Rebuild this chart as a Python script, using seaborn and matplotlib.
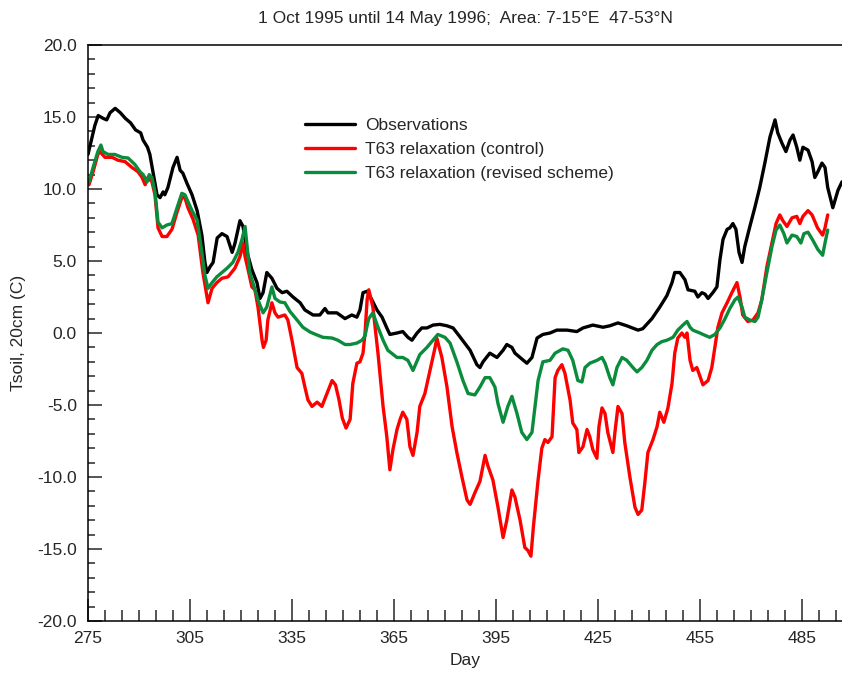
import numpy as np
import pandas as pd
import matplotlib
matplotlib.use("Agg")
import matplotlib.pyplot as plt
from matplotlib.ticker import MultipleLocator, FormatStrFormatter
import seaborn as sns

# ---------------- data ----------------
obs_day = [275, 277, 278, 279.5, 280.5, 281.5, 283, 284.5, 286, 287.5, 289, 290.5, 291.2, 292.5, 293.2,
           294.1, 295.3, 296.2, 297.1, 297.6, 298.5, 300, 301.2, 302.1, 302.9, 304.1, 305.6, 307.1, 308.5,
           309.4, 310, 310.9, 311.8, 313, 314.4, 315.9, 317.4, 318.2, 319.7, 320.6, 321.8, 323.2, 324.7,
           325.6, 326.5, 327.6, 329.1, 330.6, 332.1, 333.5, 335.3, 337.4, 338.8, 341.2, 343.2, 344.7, 345.6,
           348.2, 350.6, 352.6, 354.1, 355, 355.9, 357.1, 358.5, 360, 361.5, 362.9, 363.8, 365.9, 367.6,
           369.1, 370.3, 371.8, 373.2, 374.7, 376.5, 378.5, 380.6, 382.4, 384.2, 387.4, 389.4, 390.3, 391.2,
           393.2, 395.3, 397.1, 398.2, 399.7, 400.6, 402.1, 404.1, 405.6, 407.1, 408.8, 410.9, 412.9, 415.9,
           418.8, 420.6, 423.5, 426.5, 428.5, 430.9, 433.5, 436.8, 438.2, 440.9, 443.2, 445.3, 446.8, 447.6,
           449.1, 450.6, 451.5, 453.5, 454.4, 455.6, 456.5, 457.4, 458.8, 460, 460.9, 461.8, 463, 463.8,
           464.7, 465.6, 466.5, 467.4, 468.2, 469.7, 471.2, 472.6, 474.1, 475.6, 477.1, 477.9, 479.1, 480.3,
           481.5, 482.4, 483.5, 484.4, 485.3, 486.8, 488, 488.8, 489.7, 490.9, 491.8, 492.6, 494.1, 495.6,
           496.8]
obs_val = [12.4, 14.4, 15.1, 14.9, 14.8, 15.3, 15.6, 15.3, 14.9, 14.6, 14.1, 13.9, 13.4, 12.9, 12.4,
           11.2, 9.6, 9.4, 9.8, 9.6, 10.1, 11.5, 12.2, 11.3, 11.1, 10.4, 9.6, 8.5, 6.8,
           4.9, 4.2, 4.6, 4.9, 6.6, 6.9, 6.7, 5.6, 6.2, 7.8, 7.4, 5.6, 4.4, 3.5,
           2.4, 2.8, 4.2, 3.8, 3.1, 2.8, 2.9, 2.5, 2.1, 1.6, 1.25, 1.25, 1.7, 1.4,
           1.4, 1.0, 1.25, 1.1, 1.6, 2.8, 2.9, 2.3, 1.6, 1.1, 0.35, -0.1, 0.0, 0.1,
           -0.3, -0.5, 0.0, 0.35, 0.35, 0.55, 0.6, 0.5, 0.35, -0.2, -1.2, -2.2, -2.4, -2.0,
           -1.4, -1.7, -1.2, -0.8, -1.0, -1.4, -1.7, -2.1, -1.7, -0.35, -0.1, 0.0, 0.2, 0.2,
           0.1, 0.35, 0.55, 0.4, 0.5, 0.7, 0.5, 0.2, 0.3, 1.0, 1.8, 2.6, 3.5, 4.2,
           4.2, 3.7, 3.0, 2.9, 2.5, 2.8, 2.7, 2.4, 2.8, 3.2, 5.1, 6.5, 7.2, 7.3,
           7.6, 7.2, 5.6, 4.9, 6.0, 7.4, 8.75, 10.1, 11.8, 13.6, 14.8, 13.9, 13.2, 12.6,
           13.4, 13.75, 12.9, 12.0, 12.9, 12.7, 11.9, 10.8, 11.2, 11.8, 11.5, 10.1, 8.7, 9.9,
           10.5]

ctl_day = [275.3, 276.5, 277.9, 278.5, 280, 282.1, 283.8, 285.9, 287.9, 289.7, 290.9, 291.8, 292.6, 293.8,
           294.7, 295.6, 296.8, 298.2, 299.7, 301.2, 302.6, 303.5, 304.4, 305.9, 307.4, 308.8, 310.3, 311.5,
           312.9, 314.4, 316.2, 318.2, 319.7, 320.6, 321.2, 322.1, 323.2, 324.1, 325, 326.2, 326.6, 327.4,
           327.9, 329.1, 330, 330.9, 332.9, 333.8, 335, 336.5, 337.9, 338.8, 339.7, 340.9, 342.4, 343.8,
           345.3, 346.8, 347.8, 348.8, 349.8, 350.9, 352.1, 352.9, 354.1, 355, 355.9, 356.5, 357.1, 357.6,
           358.8, 360.3, 361.8, 362.9, 363.8, 364.7, 365.9, 366.8, 367.6, 368.8, 369.7, 370.6, 371.8, 372.6,
           374.1, 375.6, 377.1, 377.6, 379.1, 380.6, 382.1, 383.5, 385, 386.5, 387.4, 388.8, 390.3, 391.8,
           392.6, 394.1, 395.6, 397.1, 398.2, 399.7, 400.6, 402.1, 403.5, 404.4, 405.3, 406, 407.4, 408.5,
           409.4, 410.3, 411.5, 412.4, 413.2, 414.4, 415.3, 416.8, 417.6, 418.8, 419.4, 420.6, 421.8, 422.6,
           423.5, 424.7, 425.3, 426.2, 427.1, 427.9, 429.4, 430, 430.9, 432.1, 432.9, 434.4, 435.9, 436.8,
           437.9, 438.8, 439.7, 441.2, 442.4, 443.2, 444.4, 445.6, 446.8, 447.6, 448.5, 449.7, 450.6, 451.2,
           452.1, 452.9, 454.1, 455.9, 457.4, 458.5, 459.4, 460.3, 461.5, 463, 464.4, 465.9, 466.8, 467.6,
           469.1, 470.6, 472.1, 473.2, 474.7, 476.2, 477.4, 478.5, 479.4, 480.6, 482.1, 483.5, 484.4, 485.3,
           486.8, 488, 489.6, 491.1, 491.8, 492.6]
ctl_val = [10.3, 11.2, 12.4, 12.6, 12.2, 12.2, 12.0, 11.9, 11.5, 11.2, 10.8, 10.3, 10.8, 10.5,
           9.6, 7.3, 6.7, 6.7, 7.2, 8.4, 9.4, 9.4, 8.7, 7.9, 6.8, 4.2, 2.1, 3.1,
           3.5, 3.8, 3.9, 4.5, 5.3, 6.25, 5.3, 4.4, 3.2, 3.0, 1.8, -0.5, -1.0, -0.5,
           0.9, 2.1, 1.4, 1.1, 1.25, 0.9, -0.5, -2.4, -2.8, -3.75, -4.65, -5.1, -4.8, -5.1,
           -4.2, -3.3, -3.6, -4.6, -5.9, -6.6, -6.0, -3.5, -2.1, -2.0, -1.4, 0.0, 2.3, 3.0,
           1.8, -1.4, -5.1, -7.2, -9.5, -8.1, -6.7, -6.0, -5.5, -6.0, -7.9, -8.5, -6.9, -5.1,
           -4.2, -2.6, -1.0, -0.35, -1.7, -3.75, -6.5, -8.3, -10.0, -11.6, -11.9, -11.1, -10.3, -8.5,
           -9.2, -10.2, -12.1, -14.2, -13.0, -10.9, -11.4, -13.0, -14.9, -15.1, -15.5, -13.5, -10.2, -8.0,
           -7.4, -7.6, -7.2, -3.1, -2.6, -2.2, -2.8, -4.65, -6.25, -6.7, -8.3, -7.9, -6.7, -7.2,
           -8.1, -8.7, -6.5, -5.2, -5.6, -6.9, -8.3, -6.9, -5.1, -5.6, -7.6, -10.0, -12.1, -12.6,
           -12.3, -10.4, -8.3, -7.4, -6.5, -5.5, -6.2, -5.2, -3.5, -1.4, -0.35, 0.0, -0.3, 0.0,
           -1.9, -2.6, -2.4, -3.6, -3.3, -2.4, -1.0, 0.4, 1.4, 2.1, 2.8, 3.5, 2.5, 1.25,
           0.8, 0.9, 1.4, 2.3, 4.6, 6.25, 7.6, 8.2, 7.8, 7.4, 8.0, 8.1, 7.6, 8.1,
           8.5, 8.2, 7.3, 6.8, 7.3, 8.2]

rev_day = [275.3, 276.5, 277.9, 278.8, 279.4, 280.9, 282.9, 285, 286.8, 288.8, 290.3, 291.2, 292.4, 293,
           293.8, 294.7, 295.6, 296.8, 298.2, 299.7, 301.2, 302.6, 303.5, 305.6, 307.1, 308.5, 309.4, 310.3,
           311.5, 312.9, 314.4, 315.9, 317.6, 319.1, 320.3, 321.2, 321.8, 322.6, 323.5, 325, 326.5, 327.6,
           329.1, 330, 331.5, 332.9, 334.4, 336.5, 338.2, 340.3, 342.4, 344.1, 346.8, 348.5, 350.6, 352.1,
           354.1, 355.6, 356.5, 357.1, 357.6, 358.8, 360.3, 361.8, 363.2, 365.9, 367.6, 369.1, 370.6, 372.6,
           374.7, 376.5, 377.9, 380, 381.5, 383.5, 385.3, 386.8, 388.8, 390.3, 391.8, 393.2, 394.7, 395.6,
           397.1, 398.5, 399.7, 401.2, 402.6, 404.1, 405.6, 406.5, 407.4, 408.8, 410.9, 412.4, 414.7, 416.2,
           417.6, 419.1, 420.3, 421.2, 422.6, 424.7, 426.2, 427.1, 428.5, 429.4, 430.6, 432.1, 433.5, 435.3,
           436.5, 437.9, 439.4, 440.9, 442.4, 443.8, 445.3, 447.1, 448.5, 450, 451.2, 452.1, 452.9, 455,
           455.9, 457.9, 459.4, 460.9, 462.4, 463.8, 465.3, 466.2, 467.4, 468.2, 469.7, 471.2, 472.1, 473.2,
           474.7, 476.2, 477.4, 478.5, 479.7, 480.6, 482.1, 483.5, 484.7, 485.6, 486.8, 488.2, 489.7, 491.1,
           491.8, 492.6]
rev_val = [10.5, 11.5, 12.6, 13.05, 12.6, 12.4, 12.4, 12.2, 12.15, 11.7, 11.2, 11.0, 10.5, 11.0,
           10.8, 9.8, 7.7, 7.3, 7.5, 7.6, 8.7, 9.7, 9.6, 8.5, 7.85, 5.6, 4.0, 3.1,
           3.5, 3.9, 4.2, 4.5, 4.9, 5.6, 6.5, 7.4, 6.0, 4.2, 3.5, 2.3, 1.4, 1.8,
           3.2, 2.4, 2.15, 2.1, 1.5, 0.9, 0.4, 0.07, -0.14, -0.3, -0.35, -0.5, -0.8, -0.8,
           -0.7, -0.5, -0.2, 0.5, 1.0, 1.4, 0.4, -0.5, -1.2, -1.7, -1.7, -1.9, -2.6, -1.5,
           -1.0, -0.5, -0.1, -0.3, -0.7, -2.0, -3.3, -4.2, -4.3, -3.75, -3.1, -3.1, -3.75, -4.9,
           -6.2, -5.1, -4.4, -5.6, -6.9, -7.4, -6.9, -5.1, -3.3, -2.0, -1.9, -1.4, -1.1, -1.2,
           -1.9, -3.3, -3.4, -2.4, -2.1, -1.9, -1.7, -2.1, -3.1, -3.6, -2.4, -1.7, -1.9, -2.4,
           -2.7, -2.4, -1.9, -1.2, -0.8, -0.6, -0.5, -0.3, 0.2, 0.55, 0.8, 0.4, 0.2, 0.0,
           -0.1, -0.3, -0.1, 0.35, 1.0, 1.7, 2.3, 2.5, 1.8, 1.1, 0.9, 0.8, 1.1, 2.3,
           4.2, 6.0, 7.15, 7.5, 6.9, 6.25, 6.8, 6.7, 6.25, 6.9, 7.0, 6.45, 5.8, 5.4,
           6.25, 7.15]

labels = ["Observations", "T63 relaxation (control)", "T63 relaxation (revised scheme)"]
colors = ["#000000", "#ff0000", "#0a8c3c"]
x_ticks = [275, 305, 335, 365, 395, 425, 455, 485]
y_ticks = [-20, -15, -10, -5, 0, 5, 10, 15, 20]
title = "1 Oct 1995 until 14 May 1996;  Area: 7-15\u00b0E  47-53\u00b0N"

df = pd.concat([
    pd.DataFrame({"Day": obs_day, "T": obs_val, "series": labels[0]}),
    pd.DataFrame({"Day": ctl_day, "T": ctl_val, "series": labels[1]}),
    pd.DataFrame({"Day": rev_day, "T": rev_val, "series": labels[2]}),
], ignore_index=True)

# ---------------- plot ----------------
sns.set_style("ticks")
plt.rcParams["font.family"] = ["Liberation Sans", "DejaVu Sans"]
plt.rcParams["font.size"] = 12

fig = plt.figure(figsize=(8.42, 6.77), dpi=100)
ax = fig.add_axes([88 / 842, 1 - 621 / 677, (842 - 88) / 842, (621 - 45) / 677])

sns.lineplot(data=df, x="Day", y="T", hue="series", hue_order=labels,
             palette=dict(zip(labels, colors)), estimator=None, sort=False,
             linewidth=2.4, ax=ax)

ax.set_xlim(275, 496.8)
ax.set_ylim(-20, 20)
ax.set_xticks(x_ticks)
ax.set_yticks(y_ticks)
ax.xaxis.set_minor_locator(MultipleLocator(5))
ax.yaxis.set_minor_locator(MultipleLocator(1))
ax.yaxis.set_major_formatter(FormatStrFormatter("%.1f"))

ax.tick_params(axis="x", which="major", direction="in", length=16, width=1.1, labelsize=12.5, pad=7)
ax.tick_params(axis="x", which="minor", direction="in", length=8, width=1.1)
ax.tick_params(axis="y", which="major", direction="in", length=10, width=1.1, labelsize=12.5, pad=8)
ax.tick_params(axis="y", which="minor", direction="in", length=5, width=1.1)

for s in ["left", "bottom", "top"]:
    ax.spines[s].set_linewidth(1.1)
    ax.spines[s].set_color("black")
ax.spines["right"].set_visible(False)

ax.set_xlabel("Day", fontsize=12.5, labelpad=5)
ax.set_ylabel("Tsoil, 20cm (C)", fontsize=12.5, labelpad=8)
ax.set_title(title, fontsize=12.5, pad=16)

leg = ax.legend(loc="upper left", bbox_to_anchor=((305 - 88) / 754, (621 - 118) / 576),
                frameon=False, fontsize=12.5, handlelength=2.9, handletextpad=0.55,
                labelspacing=0.5, borderpad=0, borderaxespad=0)
for line in leg.get_lines():
    line.set_linewidth(2.4)

fig.savefig("out.png", dpi=100)
